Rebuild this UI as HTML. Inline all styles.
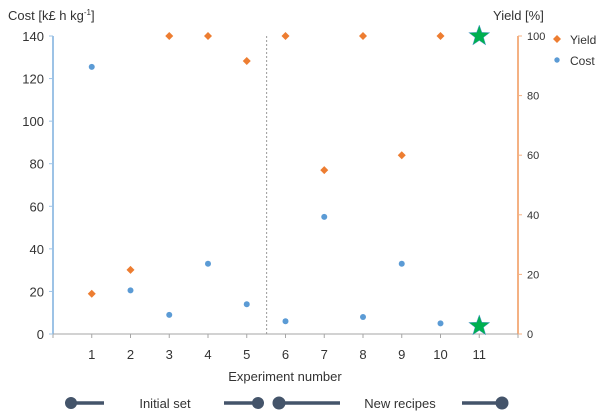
<!DOCTYPE html>
<html><head><meta charset="utf-8"><style>
body{margin:0;background:#fff;}
svg{display:block;font-family:"Liberation Sans",sans-serif;}
</style></head><body>
<svg id="chart" width="605" height="420" viewBox="0 0 605 420">
<text x="8" y="20" font-size="13" fill="#333">Cost [k£ h kg<tspan dy="-5" font-size="8">-1</tspan><tspan dy="5">]</tspan></text>
<text x="493" y="20" font-size="13" fill="#333">Yield [%]</text>
<g id="axes"></g>
<g id="marks"></g>
<g>
<path d="M553 39 l4 -4 l4 4 l-4 4z" fill="#ed7d31"/>
<text x="570" y="44" font-size="12" fill="#333">Yield</text>
<circle cx="557" cy="60" r="2.7" fill="#5b9bd5"/>
<text x="570" y="65" font-size="12" fill="#333">Cost</text>
</g>
<text x="285" y="381" font-size="13" fill="#333" text-anchor="middle">Experiment number</text>
<g stroke="#44546a" fill="#44546a">
<circle cx="71" cy="403" r="5.5"/>
<line x1="71" y1="403" x2="104" y2="403" stroke-width="3.5"/>
<line x1="224" y1="403" x2="258" y2="403" stroke-width="3.5"/>
<circle cx="258" cy="403" r="5.5"/>
<circle cx="279" cy="403" r="6"/>
<line x1="279" y1="403" x2="340" y2="403" stroke-width="3.5"/>
<line x1="462" y1="403" x2="502" y2="403" stroke-width="3.5"/>
<circle cx="502" cy="403" r="6"/>
</g>
<text x="165" y="408" font-size="13" fill="#333" text-anchor="middle">Initial set</text>
<text x="400" y="408" font-size="13" fill="#333" text-anchor="middle">New recipes</text>
</svg>
<script>
const experiments=[1,2,3,4,5,6,7,8,9,10,11];
const costValues=[125.5,20.5,9,33,14,6,55,8,33,5,3.8];
const yieldValues=[13.5,21.5,100,100,91.6,100,55,100,60,100,100];
const costTicks=[0,20,40,60,80,100,120,140];
const yieldTicks=[0,20,40,60,80,100];
const NS="http://www.w3.org/2000/svg";
const X0=53,X1=518,Y0=334,Y1=36;
function xs(v){return X0+(X1-X0)*v/12;}
function yc(v){return Y0-(Y0-Y1)*v/140;}
function yy(v){return Y0-(Y0-Y1)*v/100;}
function mk(tag,attrs,parent){const e=document.createElementNS(NS,tag);for(const k in attrs)e.setAttribute(k,attrs[k]);parent.appendChild(e);return e;}
const axes=document.getElementById('axes'),marks=document.getElementById('marks');
let l=mk('line',{x1:X0,y1:Y1,x2:X0,y2:Y0,stroke:'#9dc3e6','stroke-width':2},axes);


l=mk('line',{x1:X1,y1:Y1,x2:X1,y2:Y0,stroke:'#f4b183','stroke-width':2},axes);


l=mk('line',{x1:X0,y1:Y0,x2:X1,y2:Y0,stroke:'#a6a6a6','stroke-width':1},axes);


l=mk('line',{x1:xs(5.5)+0.5,y1:Y1,x2:xs(5.5)+0.5,y2:Y0,stroke:'#999','stroke-width':1,'stroke-dasharray':'2,2'},axes);


for(let i=0;i<=12;i++){const t=mk('line',{x1:xs(i),y1:Y0,x2:xs(i),y2:Y0+4,stroke:'#a6a6a6'},axes);

}
costTicks.forEach(v=>{const t=mk('text',{x:X0-9,y:yc(v)+5,'font-size':13,fill:'#333','text-anchor':'end'},axes);t.textContent=v;


mk('line',{x1:X0-4,y1:yc(v),x2:X0,y2:yc(v),stroke:'#9dc3e6'},axes);});
yieldTicks.forEach(v=>{const t=mk('text',{x:X1+9,y:yy(v)+4,'font-size':11,fill:'#333'},axes);t.textContent=v;


mk('line',{x1:X1,y1:yy(v),x2:X1+4,y2:yy(v),stroke:'#f4b183'},axes);});
experiments.forEach((e,i)=>{const t=mk('text',{x:xs(e),y:359,'font-size':13,fill:'#333','text-anchor':'middle'},axes);t.textContent=e;

});
function star(cx,cy,R,r){let p=[];for(let k=0;k<10;k++){const a=-Math.PI/2+k*Math.PI/5,rr=k%2?r:R;p.push((cx+rr*Math.cos(a)).toFixed(1)+','+(cy+rr*Math.sin(a)).toFixed(1));}return p.join(' ');}
experiments.forEach((e,i)=>{
const x=xs(e);
if(e===11){
 let s=mk('polygon',{points:star(x,yy(yieldValues[i]),11,4.5),fill:'#00b050',stroke:'#5b9bd5','stroke-width':0.5},marks);
 
 
 s=mk('polygon',{points:star(x,yc(costValues[i]),11,4.5),fill:'#00b050',stroke:'#5b9bd5','stroke-width':0.5},marks);
 
 
 return;}
const y=yy(yieldValues[i]);
const d=mk('path',{d:`M${x-4} ${y} L${x} ${y-4} L${x+4} ${y} L${x} ${y+4}Z`,fill:'#ed7d31'},marks);


const c=mk('circle',{cx:x,cy:yc(costValues[i]),r:3,fill:'#5b9bd5'},marks);


});
</script>
</body></html>
